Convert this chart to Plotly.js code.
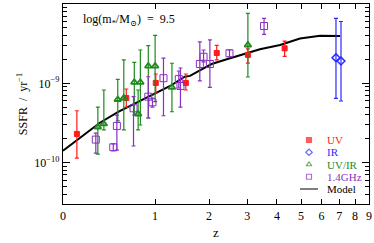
<!DOCTYPE html>
<html>
<head>
<meta charset="utf-8">
<script src="https://cdn.plot.ly/plotly-3.0.1.min.js"></script>
<style>html,body{margin:0;padding:0;background:#fff;}#chart{width:374px;height:243px;}</style>
</head>
<body>
<div id="chart"></div>
<script>
// ---- data (redshift z, SSFR in yr^-1, error-bar upper/lower ends) ----
const uvZ   = [0.11, 0.61, 1.01, 1.52, 2.18, 3.02, 4.30];
const uvY   = [2.30e-10, 6.53e-10, 1.01e-9, 1.01e-9, 2.41e-9, 2.28e-9, 2.76e-9];
const uvHi  = [4.51e-10, 8.47e-10, 1.31e-9, 1.31e-9, 3.00e-9, 2.71e-9, 3.41e-9];
const uvLo  = [1.14e-10, 5.02e-10, 7.55e-10, 8.23e-10, 1.97e-9, 1.80e-9, 2.18e-9];

const irZ   = [6.80, 7.10];
const irY   = [2.10e-9, 1.91e-9];
const irHi  = [6.60e-9, 6.02e-9];
const irLo  = [6.47e-10, 5.98e-10];

const uvirZ  = [0.30, 0.36, 0.51, 0.58, 0.71, 0.76, 0.79, 0.90, 1.00, 1.27, 3.02];
const uvirY  = [2.81e-10, 3.07e-10, 6.25e-10, 6.53e-10, 1.03e-9, 4.10e-10, 1.03e-9, 1.65e-9, 1.65e-9, 8.91e-10, 3.04e-9];
const uvirHi = [5.02e-10, 8.23e-10, 1.12e-9, 1.97e-9, 1.84e-9, 8.23e-10, 2.63e-9, 2.98e-9, 4.01e-9, 1.79e-9, 7.63e-9];
const uvirLo = [1.28e-10, 2.58e-10, 3.35e-10, 2.58e-10, 3.98e-10, 2.58e-10, 2.98e-10, 3.65e-10, 5.86e-10, 4.38e-10, 1.20e-9];

const radZ   = [0.28, 0.46, 0.50, 0.70, 0.90, 0.96, 1.13, 1.39, 1.42, 1.80, 1.88, 2.02, 2.50, 3.54];
const radY   = [1.95e-10, 1.56e-10, 2.90e-10, 4.84e-10, 6.78e-10, 5.76e-10, 1.16e-9, 1.13e-9, 9.25e-10, 1.75e-9, 2.16e-9, 1.75e-9, 2.39e-9, 5.28e-9];
const radHi  = [2.36e-10, 1.72e-10, 3.98e-10, 6.78e-10, 1.21e-9, 6.53e-10, 2.08e-9, 1.43e-9, 1.56e-9, 3.32e-9, 2.63e-9, 3.52e-9, 2.63e-9, 6.60e-9];
const radLo  = [1.32e-10, 1.42e-10, 1.44e-10, 1.62e-10, 3.65e-10, 5.02e-10, 3.90e-10, 8.73e-10, 5.02e-10, 1.07e-9, 1.86e-9, 8.91e-10, 2.15e-9, 4.15e-9];

const modelZ = [0, 0.32, 0.52, 1.24, 1.50, 1.60, 1.84, 2.06, 2.43, 2.70, 3.09, 3.40, 4.12, 4.95, 5.92, 7.04];
const modelY = [1.41e-10, 3.18e-10, 4.38e-10, 9.25e-10, 1.21e-9, 1.24e-9, 1.50e-9, 1.75e-9, 2.01e-9, 2.21e-9, 2.51e-9, 2.69e-9, 3.04e-9, 3.67e-9, 3.98e-9, 3.94e-9];

const zTicks = [0, 1, 2, 3, 4, 5, 6, 7, 8, 9];
const yTickVals = [1e-10, 1e-9, 1e-8];
const yTickText = ['10<sup>\u221210</sup>', '10<sup>\u22129</sup>', '10<sup>\u22128</sup>'];

const legendNames = ['UV', 'IR', 'UV/IR', '1.4GHz', 'Model'];

// ---- helpers ----
const onePlus = a => a.map(v => 1 + v);
const diff = (a, b) => a.map((v, i) => v - b[i]);
const FONT = 'Liberation Serif, DejaVu Serif, serif';

const red = '#ff1a1a', blue = '#2a2aff', green = '#1f8a1f', purple = '#8a2fc4';
const legendColors = [red, blue, green, purple, '#000'];
const legendSymbols = ['square', 'diamond-open', 'triangle-up-open', 'square-open'];

function pts(name, color, z, y, hi, lo, symbol, size, lw) {
  return {
    type: 'scatter', mode: 'markers', name: name, showlegend: false,
    x: onePlus(z), y: y,
    marker: {color: color, symbol: symbol, size: size, line: {color: color, width: lw}},
    error_y: {type: 'data', symmetric: false, array: diff(hi, y), arrayminus: diff(y, lo),
              color: color, thickness: 1.2, width: 2}
  };
}

const traces = [
  {type: 'scatter', mode: 'lines', name: 'Model', x: onePlus(modelZ), y: modelY,
   line: {color: '#000', width: 2}, showlegend: false},
  pts('UV', red, uvZ, uvY, uvHi, uvLo, 'square', 5, 1),
  pts('IR', blue, irZ, irY, irHi, irLo, 'diamond-open', 6, 1.5),
  pts('UV/IR', green, uvirZ, uvirY, uvirHi, uvirLo, 'triangle-up-open', 6, 1.8),
  pts('1.4GHz', purple, radZ, radY, radHi, radLo, 'square-open', 7, 1),
  // compact key (legend) drawn on an auxiliary axis: one slot per row
  {type: 'scatter', mode: 'markers', xaxis: 'x2', yaxis: 'y2', showlegend: false,
   x: legendSymbols.map(() => 0.5), y: legendSymbols.map((s, i) => i),
   marker: {symbol: legendSymbols, color: legendColors.slice(0, 4), size: [5, 5, 5, 5],
            line: {color: legendColors.slice(0, 4), width: 1.2}}},
  {type: 'scatter', mode: 'lines', xaxis: 'x2', yaxis: 'y2', showlegend: false,
   x: [0, 1], y: [4, 4], line: {color: '#000', width: 1.2}}
];

const minorY = [];
for (let e = -11; e <= -9; e++) for (let k = 2; k <= 9; k++) minorY.push(k * Math.pow(10, e));

const annotations = [{
  xref: 'paper', yref: 'paper', x: 0.058, y: 0.92, xanchor: 'left', yanchor: 'middle',
  showarrow: false, text: 'log(m<sub>*</sub>/M<sub>\u2299</sub>)  =  9.5',
  font: {family: FONT, size: 12, color: '#000'}
}];
legendNames.forEach((n, i) => annotations.push({
  xref: 'paper', yref: 'y2', x: 0.857, y: i, xanchor: 'left', yanchor: 'middle',
  showarrow: false, text: n, font: {family: FONT, size: 11, color: legendColors[i]}
}));

const layout = {
  width: 374, height: 243,
  margin: {l: 63, r: 5, t: 4, b: 39},
  paper_bgcolor: '#fff', plot_bgcolor: 'rgba(0,0,0,0)',
  font: {family: FONT, size: 12, color: '#000'},
  showlegend: false,
  xaxis: {
    type: 'log', range: [0, 1],
    tickmode: 'array', tickvals: onePlus(zTicks), ticktext: zTicks.map(String),
    ticks: 'inside', ticklen: 5, tickwidth: 1, tickcolor: '#000',
    showline: true, linecolor: '#000', linewidth: 1.2, mirror: 'ticks',
    showgrid: false, zeroline: false,
    tickfont: {family: FONT, size: 12},
    title: {text: 'z', font: {family: FONT, size: 13}, standoff: 6}
  },
  yaxis: {
    type: 'log', range: [-10.522, -8],
    tickmode: 'array', tickvals: yTickVals, ticktext: yTickText,
    ticks: 'inside', ticklen: 7, tickwidth: 1, tickcolor: '#000',
    minor: {tickmode: 'array', tickvals: minorY, ticks: 'inside', ticklen: 4, tickcolor: '#000', showgrid: false},
    showline: true, linecolor: '#000', linewidth: 1.2, mirror: 'ticks',
    showgrid: false, zeroline: false,
    tickfont: {family: FONT, size: 12},
    title: {text: 'SSFR  /  yr<sup>\u22121</sup>', font: {family: FONT, size: 12}, standoff: 4}
  },
  xaxis2: {domain: [0.7745, 0.8333], range: [0, 1], anchor: 'y2', visible: false, fixedrange: true},
  yaxis2: {domain: [0.0566, 0.3384], range: [4.3, -0.3], anchor: 'x2', visible: false, fixedrange: true},
  annotations: annotations
};

Plotly.newPlot('chart', traces, layout, {displayModeBar: false, staticPlot: true});
</script>
</body>
</html>
